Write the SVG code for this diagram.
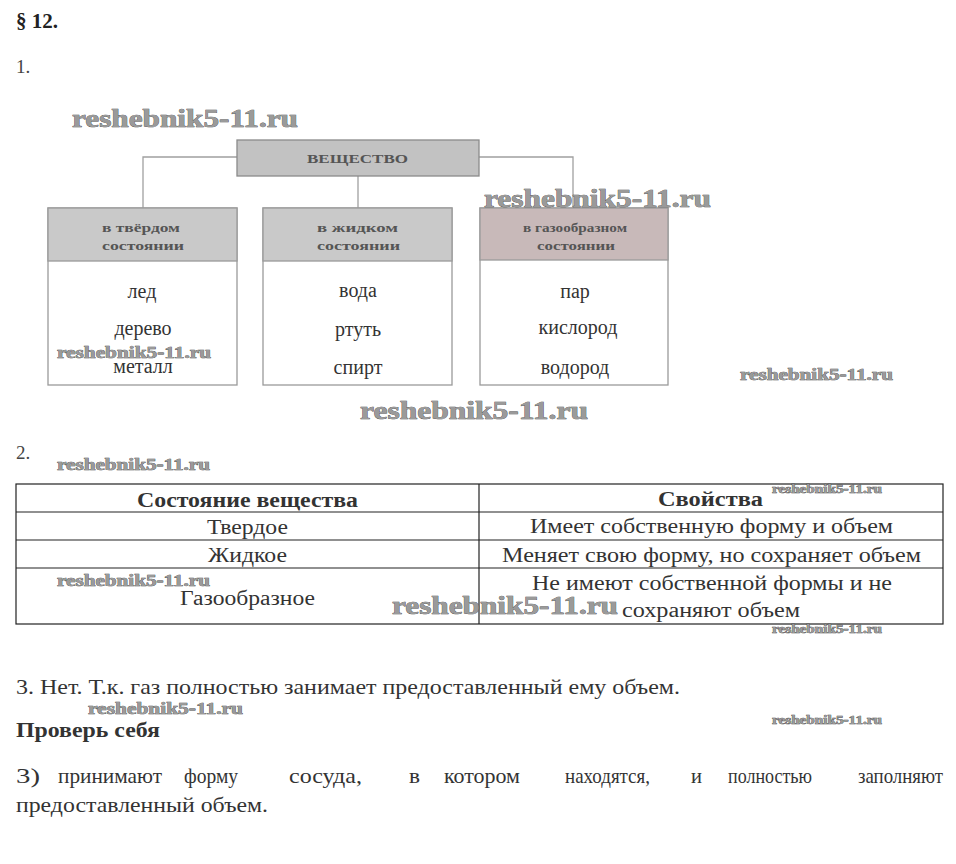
<svg xmlns="http://www.w3.org/2000/svg" width="956" height="864" viewBox="0 0 956 864">
<style>
.hd{font-weight:bold;font-size:13.5px;fill:#555}
.it{font-size:20px;fill:#333;text-anchor:middle}
.box{fill:#fff;stroke:#9a9a9a;stroke-width:1.3}
.hf{fill:#c9c9c9;stroke:#9a9a9a;stroke-width:1.3}
.conn{fill:none;stroke:#a0a0a0;stroke-width:1.3}
.wm{font-weight:bold;fill:#9a9a9a;stroke:#3a3a3a;stroke-width:0.6;paint-order:stroke}
.tb{fill:none;stroke:#222;stroke-width:1.2}
.tc{font-size:20px;fill:#333}
</style>
<rect width="956" height="864" fill="#fff"/>
<g font-family="'Liberation Serif','Times New Roman',serif">
<text x="16" y="28" font-size="21" font-weight="bold" fill="#222">§ 12.</text>
<text x="16" y="73" font-size="19" fill="#444">1.</text>

<g id="connectors">
<path class="conn" d="M237 157 H143 V208"/>
<path class="conn" d="M358 176 V208"/>
<path class="conn" d="M479 157 H573 V208" stroke="#c49a9a"/>
</g>

<g id="node-substance">
<rect x="237" y="140" width="242" height="36" fill="#c2c2c2" stroke="#8a8a8a" stroke-width="1.3"/>
<text class="hd" x="307" y="163" font-size="14" textLength="101" lengthAdjust="spacingAndGlyphs">ВЕЩЕСТВО</text>
</g>

<g id="node-solid">
<rect class="box" x="48" y="208" width="189" height="177"/>
<rect class="hf" x="48" y="208" width="189" height="53"/>
<text class="hd" x="102" y="232" textLength="78" lengthAdjust="spacingAndGlyphs">в твёрдом</text>
<text class="hd" x="102" y="250" textLength="82" lengthAdjust="spacingAndGlyphs">состоянии</text>
<text class="it" x="142" y="298">лед</text>
<text class="it" x="143" y="335">дерево</text>
<text class="it" x="143" y="373">металл</text>
</g>

<g id="node-liquid">
<rect class="box" x="263" y="208" width="189" height="177"/>
<rect class="hf" x="263" y="208" width="189" height="53"/>
<text class="hd" x="317" y="232" textLength="81" lengthAdjust="spacingAndGlyphs">в жидком</text>
<text class="hd" x="317" y="250" textLength="83" lengthAdjust="spacingAndGlyphs">состоянии</text>
<text class="it" x="358" y="297">вода</text>
<text class="it" x="358" y="336">ртуть</text>
<text class="it" x="358" y="374">спирт</text>
</g>

<g id="node-gas">
<rect class="box" x="480" y="208" width="188" height="177"/>
<rect x="480" y="208" width="188" height="52" fill="#c8b9b9" stroke="#9a9a9a" stroke-width="1.3"/>
<text class="hd" x="523" y="232" textLength="104" lengthAdjust="spacingAndGlyphs">в газообразном</text>
<text class="hd" x="537" y="250" textLength="78" lengthAdjust="spacingAndGlyphs">состоянии</text>
<text class="it" x="575" y="298">пар</text>
<text class="it" x="578" y="334">кислород</text>
<text class="it" x="575" y="374">водород</text>
</g>

<text x="16" y="459" font-size="19" fill="#444">2.</text>

<g id="table">
<rect class="tb" x="16" y="484" width="927" height="140"/>
<line class="tb" x1="16" y1="512" x2="943" y2="512"/>
<line class="tb" x1="16" y1="540" x2="943" y2="540"/>
<line class="tb" x1="16" y1="568" x2="943" y2="568"/>
<line class="tb" x1="479" y1="484" x2="479" y2="624"/>
<text class="tc" x="137" y="507" font-weight="bold" textLength="221" lengthAdjust="spacingAndGlyphs">Состояние вещества</text>
<text class="tc" x="658" y="506" font-weight="bold" textLength="105" lengthAdjust="spacingAndGlyphs">Свойства</text>
<text class="tc" x="207" y="534" textLength="81" lengthAdjust="spacingAndGlyphs">Твердое</text>
<text class="tc" x="208" y="562" textLength="79" lengthAdjust="spacingAndGlyphs">Жидкое</text>
<text class="tc" x="180" y="605" textLength="135" lengthAdjust="spacingAndGlyphs">Газообразное</text>
<text class="tc" x="530" y="533" textLength="363" lengthAdjust="spacingAndGlyphs">Имеет собственную форму и объем</text>
<text class="tc" x="502" y="562" textLength="419" lengthAdjust="spacingAndGlyphs">Меняет свою форму, но сохраняет объем</text>
<text class="tc" x="532" y="590" textLength="360" lengthAdjust="spacingAndGlyphs">Не имеют собственной формы и не</text>
<text class="tc" x="622" y="617" textLength="178" lengthAdjust="spacingAndGlyphs">сохраняют объем</text>
</g>

<text x="16" y="694" font-size="22" fill="#333" textLength="664" lengthAdjust="spacingAndGlyphs">3. Нет. Т.к. газ полностью занимает предоставленный ему объем.</text>
<text x="16" y="737" font-size="22" font-weight="bold" fill="#333" textLength="144" lengthAdjust="spacingAndGlyphs">Проверь себя</text>
<g font-size="22" fill="#333">
<text x="16" y="783" textLength="24" lengthAdjust="spacingAndGlyphs">3)</text>
<text x="58" y="783" textLength="104" lengthAdjust="spacingAndGlyphs">принимают</text>
<text x="184" y="783" textLength="54" lengthAdjust="spacingAndGlyphs">форму</text>
<text x="289" y="783" textLength="73" lengthAdjust="spacingAndGlyphs">сосуда,</text>
<text x="409" y="783" textLength="11" lengthAdjust="spacingAndGlyphs">в</text>
<text x="444" y="783" textLength="76" lengthAdjust="spacingAndGlyphs">котором</text>
<text x="565" y="783" textLength="85" lengthAdjust="spacingAndGlyphs">находятся,</text>
<text x="691" y="783" textLength="11" lengthAdjust="spacingAndGlyphs">и</text>
<text x="728" y="783" textLength="84" lengthAdjust="spacingAndGlyphs">полностью</text>
<text x="858" y="783" textLength="85" lengthAdjust="spacingAndGlyphs">заполняют</text>
<text x="16" y="812" textLength="252" lengthAdjust="spacingAndGlyphs">предоставленный объем.</text>
</g>

<g id="watermarks">
<text class="wm" x="72" y="127" font-size="25" textLength="226" lengthAdjust="spacingAndGlyphs">reshebnik5-11.ru</text>
<text class="wm" x="484" y="207" font-size="25" textLength="227" lengthAdjust="spacingAndGlyphs">reshebnik5-11.ru</text>
<text class="wm" x="57" y="358" font-size="17" textLength="154" lengthAdjust="spacingAndGlyphs">reshebnik5-11.ru</text>
<text class="wm" x="740" y="380" font-size="16" textLength="153" lengthAdjust="spacingAndGlyphs">reshebnik5-11.ru</text>
<text class="wm" x="360" y="419" font-size="25" textLength="228" lengthAdjust="spacingAndGlyphs">reshebnik5-11.ru</text>
<text class="wm" x="57" y="470" font-size="16" textLength="153" lengthAdjust="spacingAndGlyphs">reshebnik5-11.ru</text>
<text class="wm" x="772" y="493" font-size="12" textLength="110" lengthAdjust="spacingAndGlyphs">reshebnik5-11.ru</text>
<text class="wm" x="57" y="586" font-size="16" textLength="153" lengthAdjust="spacingAndGlyphs">reshebnik5-11.ru</text>
<text class="wm" x="392" y="614" font-size="25" textLength="226" lengthAdjust="spacingAndGlyphs">reshebnik5-11.ru</text>
<text class="wm" x="772" y="633" font-size="12" textLength="110" lengthAdjust="spacingAndGlyphs">reshebnik5-11.ru</text>
<text class="wm" x="88" y="714" font-size="16" textLength="155" lengthAdjust="spacingAndGlyphs">reshebnik5-11.ru</text>
<text class="wm" x="772" y="724" font-size="12" textLength="110" lengthAdjust="spacingAndGlyphs">reshebnik5-11.ru</text>
</g>
</g>
</svg>
